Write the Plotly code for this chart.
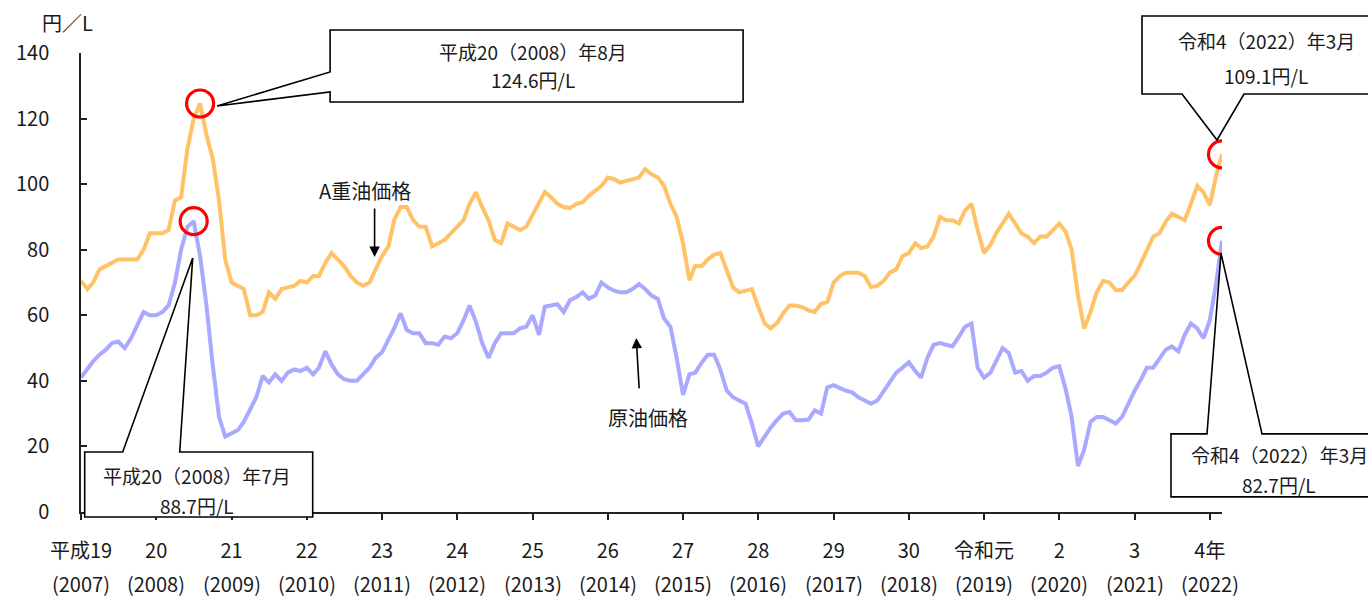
import pandas as pd
import plotly.graph_objects as go

start_month = "2007-01-01"

# A重油価格 (円/L), monthly 2007-01 .. 2022-03
a_oil = [
    70.5, 68, 70, 74, 75, 76, 77, 77, 77, 77, 80, 85,            # 2007
    85, 85, 86, 95, 96, 111, 120, 124.6, 115, 108, 95, 77,       # 2008
    70, 69, 68, 60, 60, 61, 67, 65, 68, 68.5, 69, 70.5,          # 2009
    70, 72, 72, 76, 79, 77, 75, 72, 70, 69, 70, 74,              # 2010
    78, 81, 89, 93, 93, 89, 87, 87, 81, 82, 83, 85,              # 2011
    87, 89, 94, 97.5, 93, 89, 83, 82, 88, 87, 86, 87,            # 2012
    90.6, 94, 97.6, 96, 94, 93, 92.7, 94, 94.5, 96.5, 98, 99.5,  # 2013
    102, 101.5, 100.5, 101, 101.5, 102, 104.6, 103, 102, 99.5, 94, 90,  # 2014
    82, 70.7, 75, 75, 77, 78.5, 79, 73.6, 68.5, 67, 67.5, 68,    # 2015
    62.6, 57.6, 56, 57.6, 60.6, 63, 63, 62.5, 61.5, 61, 63.5, 64,  # 2016
    70, 72, 73, 73, 73, 72, 68.6, 69, 70.5, 73, 74, 78,          # 2017
    79, 82, 80.5, 81, 84, 90, 89, 89, 88, 92, 94, 86,            # 2018
    79, 81.5, 85, 88, 91, 88, 85, 84, 82, 84, 84, 86,            # 2019
    88, 85.5, 80, 66, 56, 61, 67, 70.5, 70, 67.7, 67.7, 70,      # 2020
    72, 76, 80, 84, 85, 88.5, 91, 90, 89, 94, 99.5, 97.5,        # 2021
    93.6, 102.7, 109.1,                                          # 2022
]

# 原油価格 (円/L), monthly 2007-01 .. 2022-03
crude = [
    41, 43.5, 46, 48, 49.5, 51.5, 52, 50, 53, 57, 61, 60,        # 2007
    60, 61, 63, 70, 80, 87, 88.7, 78, 63, 45, 29, 23,            # 2008
    24, 25, 27.5, 31, 35, 41.5, 39.5, 42, 40, 42.5, 43.5, 43,    # 2009
    44, 42, 44, 49, 45, 42, 40.5, 40, 40, 42, 44, 47,            # 2010
    48.7, 52.6, 56, 60.6, 55.5, 54.5, 54.5, 51.5, 51.5, 51, 53.5, 53,  # 2011
    54.5, 58.5, 63, 58, 51.5, 47, 51.5, 54.5, 54.5, 54.5, 56, 56.5,    # 2012
    60, 54, 62.6, 63, 63.4, 61, 64.6, 65.6, 67, 65, 66, 70,      # 2013
    68.5, 67.5, 67, 67, 68, 69.5, 68, 66, 65, 59, 56.5, 47,      # 2014
    35.7, 42, 42.5, 45.5, 48, 48, 43.5, 37, 35, 34, 33, 27,      # 2015
    20, 23, 25.7, 28, 30, 30.5, 28, 28, 28.2, 31, 30, 38,        # 2016
    38.7, 37.8, 37, 36.5, 35, 34, 33, 34, 37, 40, 42.5, 44,      # 2017
    45.7, 43, 41, 47, 51, 51.5, 51, 50.5, 53.5, 56.5, 57.5, 44,  # 2018
    41, 42.5, 46, 50, 48.5, 42.5, 43, 40, 41.5, 41.5, 42.5, 44,  # 2019
    44.5, 37.5, 29, 14, 19, 27.5, 29, 29, 28, 27, 29, 33,        # 2020
    37, 40.5, 44, 44, 46.5, 49.5, 50.5, 49, 54, 57.5, 56, 53,    # 2021
    58.5, 70, 82.7,                                              # 2022
]

era_labels = ["平成19", "20", "21", "22", "23", "24", "25", "26", "27",
              "28", "29", "30", "令和元", "2", "3", "4年"]
year_labels = ["(2007)", "(2008)", "(2009)", "(2010)", "(2011)", "(2012)",
               "(2013)", "(2014)", "(2015)", "(2016)", "(2017)", "(2018)",
               "(2019)", "(2020)", "(2021)", "(2022)"]

months = pd.date_range(start_month, periods=len(a_oil), freq="MS")
tick_dates = pd.date_range(start_month, periods=len(era_labels), freq="YS")

ORANGE = "#FFC266"
BLUE = "#A9A9FF"
FONT = "Noto Sans CJK JP"
TXT = "#1a1a1a"
Y_MAX = 140
x_start, x_end = months[0], months[-1]

fig = go.Figure()
fig.add_trace(go.Scatter(x=months, y=a_oil, mode="lines",
                         line=dict(color=ORANGE, width=4), hoverinfo="skip"))
fig.add_trace(go.Scatter(x=months, y=crude, mode="lines",
                         line=dict(color=BLUE, width=4), hoverinfo="skip"))

i_a_peak = a_oil.index(max(a_oil))
i_c_peak = crude.index(max(crude))
i_last = len(a_oil) - 1

hl = [(i_a_peak, a_oil), (i_c_peak, crude), (i_last, a_oil), (i_last, crude)]
fig.add_trace(go.Scatter(
    x=[months[i] for i, s in hl], y=[s[i] for i, s in hl], mode="markers",
    marker=dict(symbol="circle-open", size=27, color="#FF0000",
                line=dict(width=3.2, color="#FF0000")),
    hoverinfo="skip"))


def era_text(d):
    if d.year >= 2019:
        return f"令和{d.year - 2018}（{d.year}）年{d.month}月"
    return f"平成{d.year - 1988}（{d.year}）年{d.month}月"


def callout(i, series, path, dx, dy1, dy2):
    d = months[i]
    y = series[i]
    # anchor (in plot fraction) derived from the data point and the axis ranges
    fx = (d - x_start) / (x_end - x_start)
    fy = y / Y_MAX
    fig.add_shape(type="path", xref="paper", yref="paper", xsizemode="pixel",
                  ysizemode="pixel", xanchor=fx, yanchor=fy, path=path,
                  fillcolor="white", line=dict(color="black", width=1.6),
                  layer="above")
    for txt, dy in ((era_text(d), dy1), (f"{y:.1f}円/L", dy2)):
        fig.add_annotation(x=d.strftime("%Y-%m-%d"), y=y, xref="x", yref="y",
                           text=txt, showarrow=False, xshift=dx, yshift=-dy,
                           font=dict(family=FONT, size=19, color=TXT))


callout(i_a_peak, a_oil,
        "M17,-2.5 L130,11.5 L130,1.5 L543,1.5 L543,73.5 L130,73.5 L130,31.5 Z",
        333, -51.5, -23.5)
callout(i_c_peak, crude,
        "M-1,-36.8 L-14,-230.8 L119,-230.8 L119,-295.8 L-109,-295.8 L-109,-230.8 L-71,-230.8 Z",
        3, 254, 284)
callout(i_last, a_oil,
        "M-5,14.3 L22,60.3 L160,60.3 L160,138.3 L-80,138.3 L-80,60.3 L-40,60.3 Z",
        44, -114, -79)
callout(i_last, crude,
        "M-1,-12.4 L40,-193 L160,-193 L160,-256 L-51,-256 L-51,-193 L-15,-193 Z",
        57, 214, 244)

# series labels with arrows
fig.add_annotation(x="2010-10-10", y=98.2, text="A重油価格", showarrow=False,
                   font=dict(family=FONT, size=20, color=TXT))
fig.add_annotation(x="2010-11-26", y=77.8, text="", showarrow=True, ax=0, ay=-50,
                   arrowhead=2, arrowsize=1.3, arrowwidth=1.6, arrowcolor="black")
fig.add_annotation(x="2014-07-13", y=28.7, text="原油価格", showarrow=False,
                   font=dict(family=FONT, size=20, color=TXT))
fig.add_annotation(x="2014-05-19", y=53.1, text="", showarrow=True, ax=3, ay=52,
                   arrowhead=2, arrowsize=1.3, arrowwidth=1.6, arrowcolor="black")

# unit label
fig.add_annotation(xref="paper", yref="paper", x=0, y=1, xshift=-14, yshift=31,
                   xanchor="center", yanchor="middle",
                   text="円／L", showarrow=False,
                   font=dict(family=FONT, size=20, color=TXT))

# second row of x tick labels (western years)
for d, lab in zip(tick_dates, year_labels):
    fig.add_annotation(x=d.strftime("%Y-%m-%d"), xref="x", yref="paper", y=0,
                       yshift=-71, yanchor="middle", text=lab, showarrow=False,
                       font=dict(family=FONT, size=20, color=TXT))

x_range = [x_start.strftime("%Y-%m-%d"), x_end.strftime("%Y-%m-%d")]

fig.update_layout(
    width=1368, height=597,
    margin=dict(l=81, r=146, t=53, b=85),
    paper_bgcolor="white", plot_bgcolor="white",
    showlegend=False,
    font=dict(family=FONT, size=20, color=TXT),
    xaxis=dict(type="date", range=x_range, tickvals=tick_dates, ticktext=era_labels,
               showgrid=False, zeroline=False, showline=True, linecolor="#222",
               linewidth=1.5, ticks="outside", ticklen=6, tickwidth=1.5,
               tickcolor="#222", ticklabelstandoff=14, automargin=False,
               tickfont=dict(family=FONT, size=20, color=TXT)),
    yaxis=dict(range=[0, Y_MAX], tickvals=list(range(0, Y_MAX + 1, 20)), showgrid=False,
               zeroline=False, showline=True, linecolor="#222", linewidth=1.5,
               ticks="inside", ticklen=6, tickwidth=1.5, tickcolor="#222",
               ticklabelstandoff=26, automargin=False,
               tickfont=dict(family=FONT, size=20, color=TXT)),
)

fig.write_html(
    "out.html",
    config={"displayModeBar": False},
    post_script="document.body.style.margin='0';document.body.style.overflow='hidden';",
)
